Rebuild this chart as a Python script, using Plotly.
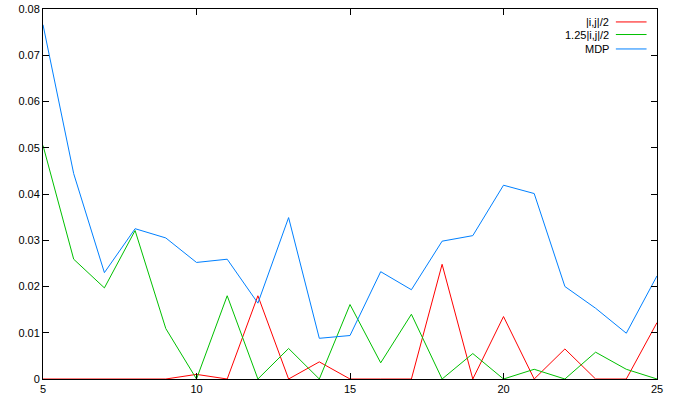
import plotly.graph_objects as go

x_vals = list(range(5, 26))
half_ij = [0, 0, 0, 0, 0, 0.0010, 0, 0.0180, 0, 0.0037, 0, 0, 0, 0.0248, 0, 0.0135, 0, 0.0065, 0, 0, 0.0122]
ij125 = [0.0505, 0.0259, 0.0197, 0.0321, 0.0109, 0, 0.0180, 0, 0.0066, 0, 0.0161, 0.0035, 0.0140, 0, 0.0055, 0, 0.0021, 0, 0.0058, 0.0021, 0]
mdp = [0.0766, 0.0444, 0.0230, 0.0325, 0.0305, 0.0252, 0.0259, 0.0164, 0.0349, 0.0088, 0.0094, 0.0232, 0.0193, 0.0298, 0.0310, 0.0419, 0.0401, 0.0200, 0.0153, 0.0099, 0.0223]

series_names = ["|i,j|/2", "1.25|i,j|/2", "MDP"]
series_colors = ["#ff0000", "#00c000", "#0080ff"]
series_data = [half_ij, ij125, mdp]

FONT = "Liberation Sans, Arial"

fig = go.Figure()
for name, color, ys in zip(series_names, series_colors, series_data):
    fig.add_trace(go.Scatter(x=x_vals, y=ys, mode="lines", name=name,
                             line=dict(color=color, width=1), showlegend=False))

# gnuplot-style legend: right-aligned text followed by a line sample
legend_y = [0.965, 0.931, 0.892]
for name, color, yy in zip(series_names, series_colors, legend_y):
    fig.add_annotation(x=0.925, y=yy, xref="paper", yref="paper", text=name,
                       showarrow=False, xanchor="right", yanchor="middle",
                       font=dict(family=FONT, size=11, color="#000"))
    fig.add_shape(type="line", xref="paper", yref="paper", x0=0.933, x1=0.983,
                  y0=yy, y1=yy, line=dict(color=color, width=1))

axis_common = dict(showgrid=False, zeroline=False, showline=True, linecolor="#000",
                   linewidth=1, ticks="inside", ticklen=6, tickcolor="#000",
                   mirror="allticks", automargin=False,
                   tickfont=dict(family=FONT, size=11, color="#000"))

fig.update_xaxes(range=[5, 25], tickvals=[5, 10, 15, 20, 25], **axis_common)
fig.update_yaxes(range=[0, 0.08], tickvals=[0, 0.01, 0.02, 0.03, 0.04, 0.05, 0.06, 0.07, 0.08],
                 ticktext=["0", "0.01", "0.02", "0.03", "0.04", "0.05", "0.06", "0.07", "0.08"],
                 **axis_common)

fig.update_layout(width=681, height=398, margin=dict(l=43, r=24, t=9, b=19),
                  plot_bgcolor="#fff", paper_bgcolor="#fff", showlegend=False)

fig.write_html("out.html", config={"displayModeBar": False},
               post_script="document.body.style.margin='0';document.body.style.overflow='hidden';")
